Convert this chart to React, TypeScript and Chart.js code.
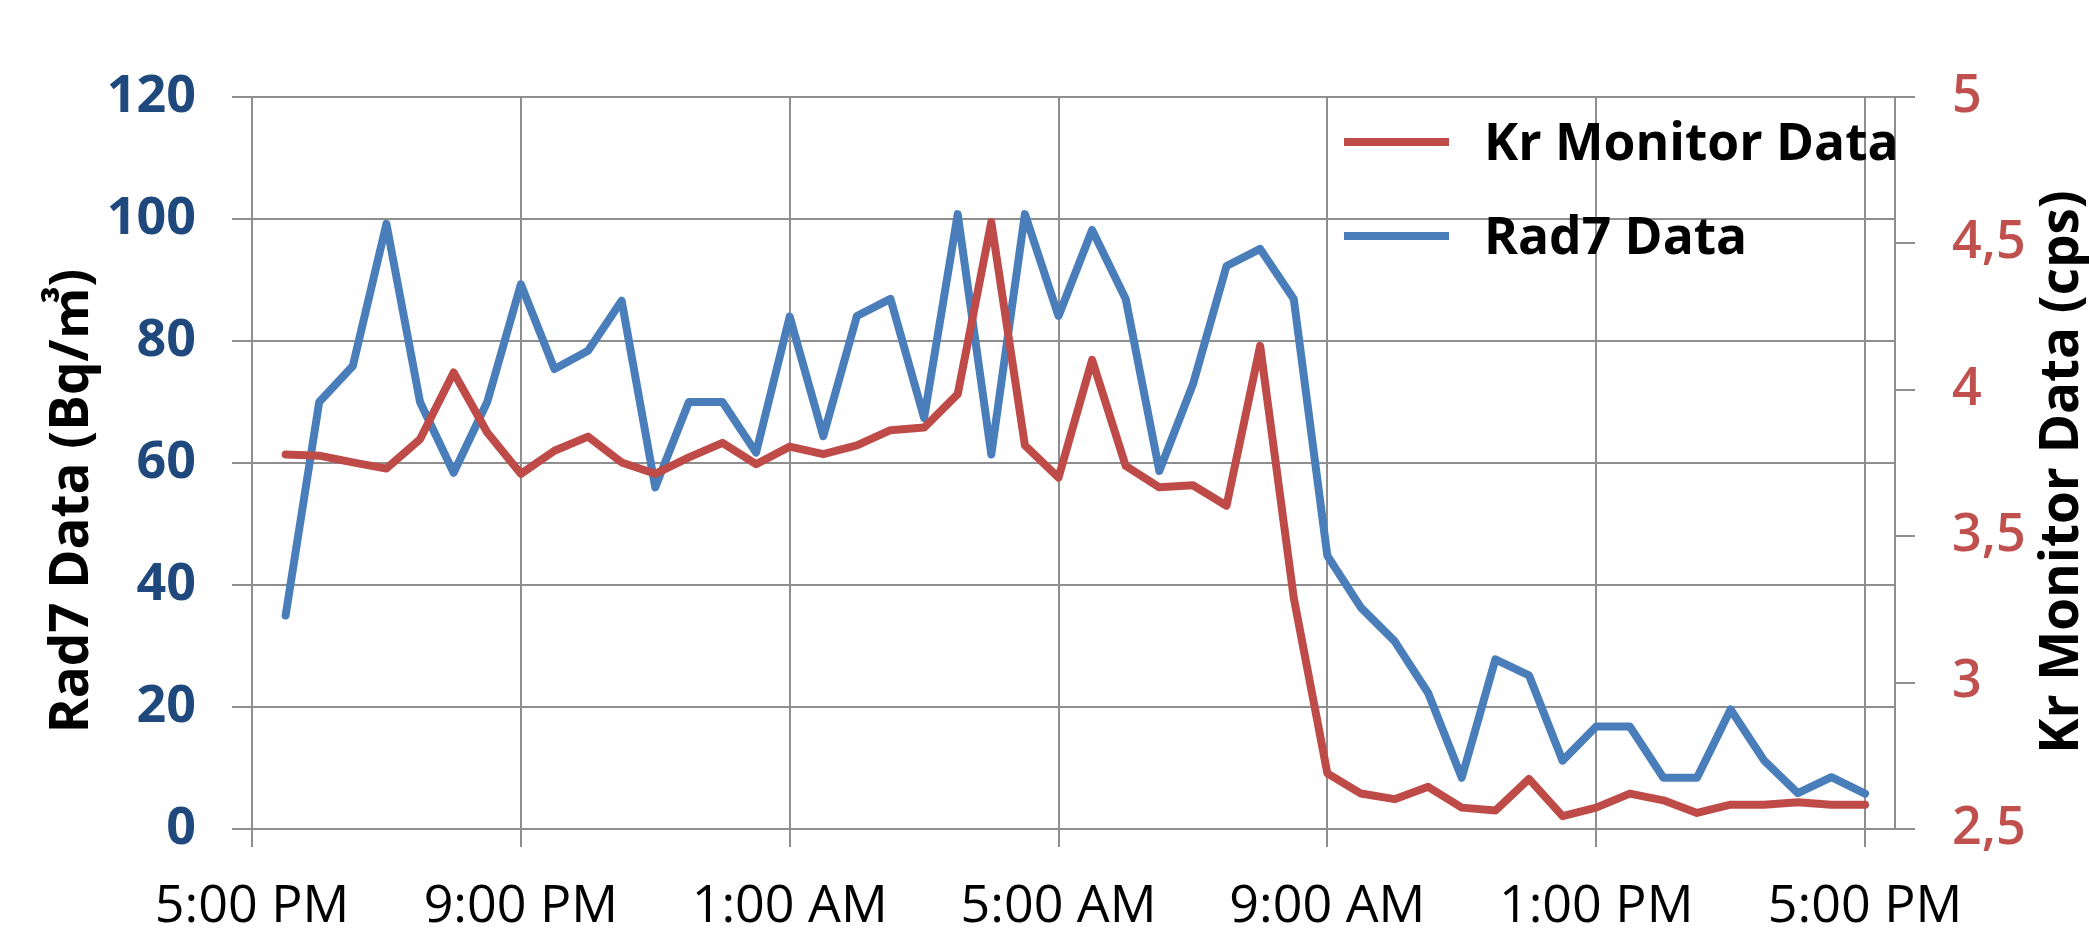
import React, { useEffect, useRef } from "react";
import { Chart, registerables } from "chart.js";

Chart.register(...registerables);

// hours after 5:00 PM for each reading (30-minute readings)
const HOURS = [
  0.5, 1, 1.5, 2, 2.5, 3, 3.5, 4, 4.5, 5, 5.5, 6, 6.5, 7, 7.5, 8,
  8.5, 9, 9.5, 10, 10.5, 11, 11.5, 12, 12.5, 13, 13.5, 14, 14.5, 15, 15.5, 16,
  16.5, 17, 17.5, 18, 18.5, 19, 19.5, 20, 20.5, 21, 21.5, 22, 22.5, 23, 23.5, 24,
];

const KR_DATA = [
  3.779, 3.775, 3.752, 3.731, 3.831, 4.059, 3.854, 3.713, 3.792, 3.84, 3.752, 3.713,
  3.769, 3.819, 3.746, 3.806, 3.78, 3.81, 3.862, 3.871, 3.985, 4.573, 3.81, 3.7,
  4.102, 3.74, 3.667, 3.674, 3.604, 4.15, 3.29, 2.69, 2.621, 2.602, 2.644, 2.573,
  2.563, 2.671, 2.544, 2.573, 2.621, 2.598, 2.555, 2.583, 2.583, 2.591, 2.583, 2.583,
];

const RAD7_DATA = [
  35, 70, 75.9, 99.2, 70, 58.4, 70, 89.3, 75.4, 78.4, 86.6, 56,
  70, 70, 61.7, 84, 64.4, 84.1, 86.9, 67.4, 100.8, 61.4, 100.8, 84.1,
  98.2, 86.9, 58.7, 72.9, 92.3, 95.1, 86.9, 44.8, 36.3, 30.8, 22.3, 8.4,
  27.8, 25.2, 11.2, 16.8, 16.8, 8.4, 8.4, 19.6, 11.2, 5.9, 8.5, 5.8,
];

const SERIES_LABELS = ["Kr Monitor Data", "Rad7 Data"];
const SERIES_COLORS = ["#BE4B48", "#4A7EBB"];

const X_TICKS = [0, 4, 8, 12, 16, 20, 24];
const X_TICK_LABELS = ["5:00 PM", "9:00 PM", "1:00 AM", "5:00 AM", "9:00 AM", "1:00 PM", "5:00 PM"];

const RIGHT_TICKS = [2.5, 3, 3.5, 4, 4.5, 5];
const RIGHT_TICK_LABELS = ["2,5", "3", "3,5", "4", "4,5", "5"];

const LEFT_TITLE = "Rad7 Data (Bq/㎥)";
const RIGHT_TITLE = "Kr Monitor Data (cps)";

const W = 2089;
const H = 935;
const FONT = '"Open Sans", "Noto Sans CJK KR", sans-serif';
const GRID = "#8E8E8E";

const overlayPlugin = {
  id: "overlay",
  afterDraw(chart: any) {
    const ctx = chart.ctx;
    ctx.save();
    ctx.fillStyle = "#000";
    ctx.font = `bold 53px ${FONT}`;
    ctx.textAlign = "center";
    ctx.textBaseline = "alphabetic";
    // left axis title
    ctx.save();
    ctx.translate(88, 501);
    ctx.rotate(-Math.PI / 2);
    ctx.fillText(LEFT_TITLE, 0, 0);
    ctx.restore();
    // right axis title
    ctx.save();
    ctx.translate(2078, 472);
    ctx.rotate(-Math.PI / 2);
    ctx.fillText(RIGHT_TITLE, 0, 0);
    ctx.restore();

    // legend
    const rows = [142, 236];
    chart.data.datasets.forEach((ds: any, i: number) => {
      const y = rows[i];
      ctx.strokeStyle = ds.borderColor;
      ctx.lineWidth = 8;
      ctx.lineCap = "butt";
      ctx.beginPath();
      ctx.moveTo(1344, y);
      ctx.lineTo(1449, y);
      ctx.stroke();
      ctx.fillStyle = "#000";
      ctx.textAlign = "left";
      ctx.textBaseline = "alphabetic";
      ctx.font = `bold 51.5px ${FONT}`;
      ctx.fillText(ds.label, 1484, y + 18);
    });
    ctx.restore();
  },
};

export default function App() {
  const ref = useRef<HTMLCanvasElement | null>(null);

  useEffect(() => {
    const canvas = ref.current;
    if (!canvas) return;
    const chart = new Chart(canvas, {
      type: "line",
      data: {
        datasets: [
          {
            label: SERIES_LABELS[0],
            data: HOURS.map((h, i) => ({ x: h, y: KR_DATA[i] })),
            yAxisID: "y2",
            borderColor: SERIES_COLORS[0],
            backgroundColor: SERIES_COLORS[0],
            borderWidth: 8,
            pointRadius: 0,
            tension: 0,
            borderJoinStyle: "round",
            borderCapStyle: "round",
          },
          {
            label: SERIES_LABELS[1],
            data: HOURS.map((h, i) => ({ x: h, y: RAD7_DATA[i] })),
            yAxisID: "y",
            borderColor: SERIES_COLORS[1],
            backgroundColor: SERIES_COLORS[1],
            borderWidth: 8,
            pointRadius: 0,
            tension: 0,
            borderJoinStyle: "round",
            borderCapStyle: "round",
          },
        ],
      },
      options: {
        responsive: false,
        maintainAspectRatio: false,
        devicePixelRatio: 1,
        animation: false,
        events: [],
        layout: { padding: { top: 97, left: 0, right: 0, bottom: 0 } },
        plugins: { legend: { display: false }, tooltip: { enabled: false }, title: { display: false } },
        scales: {
          x: {
            type: "linear",
            position: "bottom",
            min: 0,
            max: 24.446,
            afterBuildTicks: (scale: any) => {
              scale.ticks = X_TICKS.map((v) => ({ value: v }));
            },
            afterFit: (scale: any) => {
              scale.height = 106;
            },
            ticks: {
              autoSkip: false,
              maxRotation: 0,
              minRotation: 0,
              padding: 29,
              color: "#000",
              font: { family: FONT, size: 52 },
              callback: (v: any) => {
                const i = X_TICKS.indexOf(Number(v));
                return i >= 0 ? X_TICK_LABELS[i] : "";
              },
            },
            grid: { color: GRID, lineWidth: 2, tickLength: 18, drawTicks: true },
            border: { display: true, color: GRID, width: 2 },
          },
          y: {
            type: "linear",
            position: "left",
            min: 0,
            max: 120,
            afterFit: (scale: any) => {
              scale.width = 252;
            },
            ticks: {
              stepSize: 20,
              padding: 36,
              color: "#1F497D",
              font: { family: FONT, size: 52, weight: "bold" },
            },
            grid: { color: GRID, lineWidth: 2, tickLength: 20, drawTicks: true },
            border: { display: true, color: GRID, width: 2 },
          },
          y2: {
            type: "linear",
            position: "right",
            min: 2.5,
            max: 5,
            afterBuildTicks: (scale: any) => {
              scale.ticks = RIGHT_TICKS.map((v) => ({ value: v }));
            },
            afterFit: (scale: any) => {
              scale.width = 194;
            },
            ticks: {
              padding: 37,
              color: "#C0504D",
              font: { family: FONT, size: 52, weight: 600 },
              callback: (v: any) => {
                const i = RIGHT_TICKS.indexOf(Number(v));
                return i >= 0 ? RIGHT_TICK_LABELS[i] : "";
              },
            },
            grid: { drawOnChartArea: false, color: GRID, lineWidth: 2, tickLength: 20, drawTicks: true },
            border: { display: true, color: GRID, width: 2 },
          },
        },
      },
      plugins: [overlayPlugin],
    } as any);
    return () => chart.destroy();
  }, []);

  return (
    <div style={{ position: "fixed", left: 0, top: 0, width: W, height: H, background: "#fff" }}>
      <canvas ref={ref} width={W} height={H} style={{ width: W, height: H, display: "block" }} />
    </div>
  );
}
